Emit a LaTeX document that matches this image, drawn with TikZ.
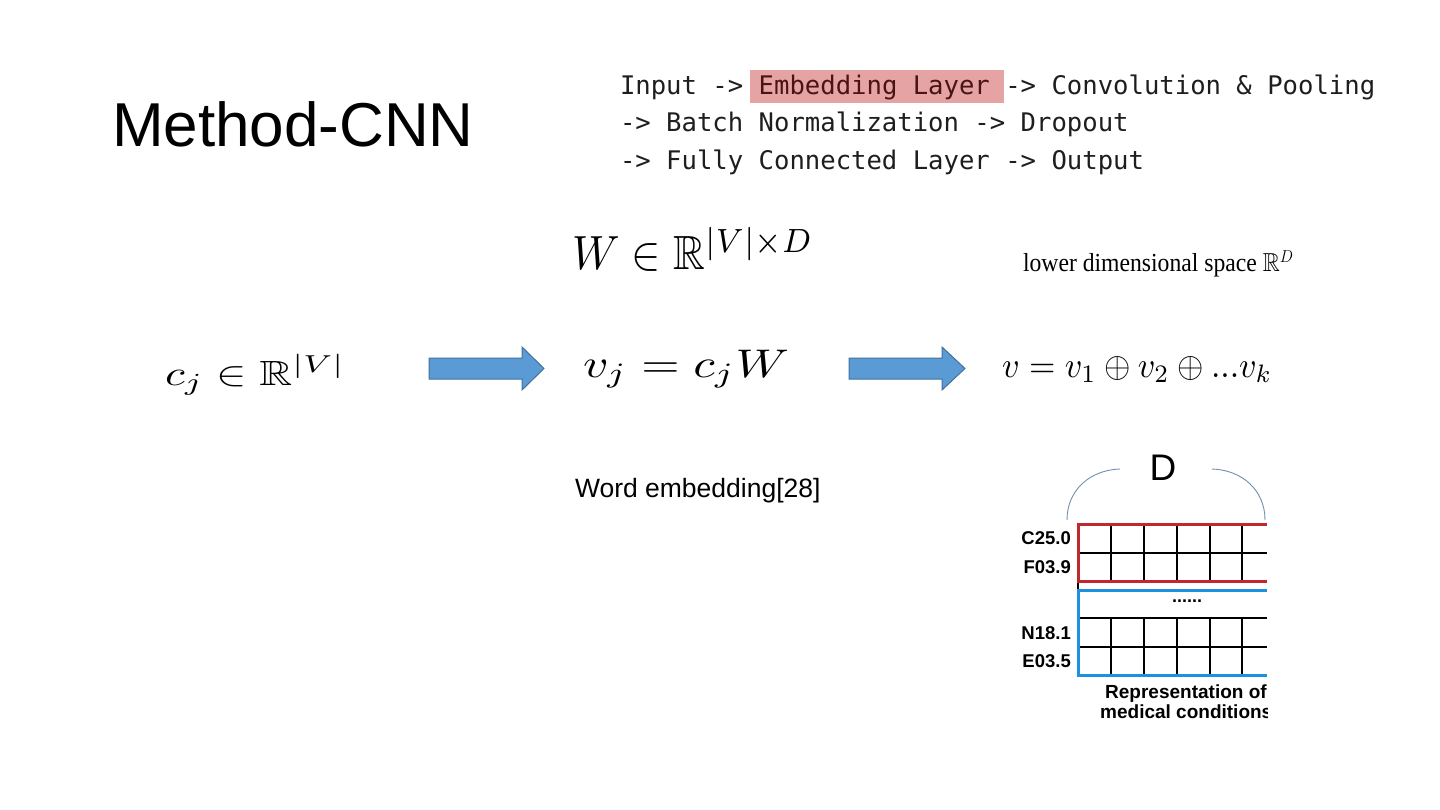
\documentclass[tikz,border=0pt]{standalone}
\usepackage{amssymb}
\usepackage{graphicx}
\usepackage{fontspec}
\newfontfamily\sansf{Liberation Sans}
\newfontfamily\monof{DejaVu Sans Mono}
\newfontfamily\timesf{Liberation Serif}
\definecolor{hl}{HTML}{E6A3A3}
\definecolor{codetxt}{HTML}{1E1E1E}
\definecolor{hltxt}{HTML}{4A1414}
\definecolor{arrfill}{HTML}{5B9BD5}
\definecolor{arrline}{HTML}{41719C}
\definecolor{gridred}{HTML}{C0282D}
\definecolor{gridblue}{HTML}{1E90E0}
\definecolor{arcc}{HTML}{7090B0}
\tikzset{
  txt/.style={inner sep=0pt, outer sep=0pt, anchor=base west},
  codeline/.style={txt, font=\monof\fontsize{25.6}{30}\selectfont, text=codetxt},
  bigarrow/.style={fill=arrfill, draw=arrline, line width=1pt, line join=miter},
  cellline/.style={black, line width=1.5pt},
  lbl/.style={inner sep=0pt, anchor=base east, font=\sansf\bfseries\fontsize{18.5}{21}\selectfont},
  replbl/.style={inner sep=0pt, anchor=base west, font=\sansf\bfseries\fontsize{19}{22}\selectfont},
}
\begin{document}
\begin{tikzpicture}[x=1pt,y=-1pt]
\useasboundingbox (0,0) rectangle (1440,810);
\fill[white] (0,0) rectangle (1440,810);

% title
\node[txt, font=\sansf\fontsize{62}{70}\selectfont] (title) at (112,147) {Method-CNN};

% code lines
\fill[hl] (750,70) rectangle (1004,103);
\node[codeline] (code1) at (620,95) {Input -> \textcolor{hltxt}{Embedding Layer} -> Convolution \& Pooling};
\node[codeline] (code2) at (620,132) {-> Batch Normalization -> Dropout};
\node[codeline] (code3) at (620,170) {-> Fully Connected Layer -> Output};

% formulas
\node[txt] (wmat) at (572,270) {\scalebox{4.4}[4.8]{$W \in \mathbb{R}^{|V|\times D}$}};
\node[txt, font=\timesf\fontsize{26}{30}\selectfont] (lowdim) at (1023,272) {\scalebox{0.91}[1]{lower dimensional space $\mathbb{R}^{D}$}};
\node[txt] (cj) at (165,385) {\scalebox{4.55}[3.5]{$c_j \in \mathbb{R}^{|V|}$}};
\node[txt] (vj) at (583,377) {\scalebox{4.93}[4.0]{$v_j = c_j W$}};
\node[txt] (vcat) at (1002,377) {\scalebox{3.39}[3.6]{$v = v_1 \oplus v_2 \oplus ...v_k$}};

% block arrows
\draw[bigarrow] (429,358) -- (522,358) -- (522,347) -- (544,368.5) -- (522,390) -- (522,379) -- (429,379) -- cycle;
\draw[bigarrow] (849,358) -- (942,358) -- (942,347) -- (965,368.5) -- (942,390) -- (942,379) -- (849,379) -- cycle;

% caption
\node[txt, font=\sansf\fontsize{26.5}{30}\selectfont] (cap) at (575,497) {Word embedding[28]};

% D brace
\node[inner sep=0pt, font=\sansf\fontsize{37}{40}\selectfont] (dlab) at (1163,468) {D};
\coordinate (al1) at (1067,520);
\coordinate (al2) at (1120,469);
\coordinate (ar1) at (1212,469);
\coordinate (ar2) at (1265,520);
\draw[arcc, line width=0.9pt] (al1) .. controls (1067,490) and (1090,470) .. (al2);
\draw[arcc, line width=0.9pt] (ar1) .. controls (1242,470) and (1265,490) .. (ar2);

% grid
\foreach \x in {1111,1144,1177,1210,1242} {
  \draw[cellline] (\x,524) -- (\x,581);
  \draw[cellline] (\x,618) -- (\x,675);
}
\draw[cellline] (1078,553) -- (1267,553);
\draw[cellline] (1078,618) -- (1267,618);
\draw[cellline] (1078,647) -- (1267,647);
\draw[black, line width=2pt] (1078,581) -- (1078,590);
\draw[gridred, line width=3pt] (1267,524) -- (1078,524) -- (1078,581) -- (1267,581);
\draw[gridblue, line width=3pt] (1267,590) -- (1078,590) -- (1078,675) -- (1267,675);
\node[inner sep=0pt, font=\sansf\bfseries\fontsize{18}{20}\selectfont] (dots) at (1187,601) {......};

% row labels
\node[lbl] (r1) at (1071,544) {C25.0};
\node[lbl] (r2) at (1071,573) {F03.9};
\node[lbl] (r3) at (1071,639) {N18.1};
\node[lbl] (r4) at (1071,667) {E03.5};

% bottom caption (clipped)
\begin{scope}
\clip (1000,680) rectangle (1267,730);
\node[replbl] (rep1) at (1105,698) {Representation of};
\node[replbl] (rep2) at (1100,718) {medical conditions};
\end{scope}
\end{tikzpicture}
\end{document}
